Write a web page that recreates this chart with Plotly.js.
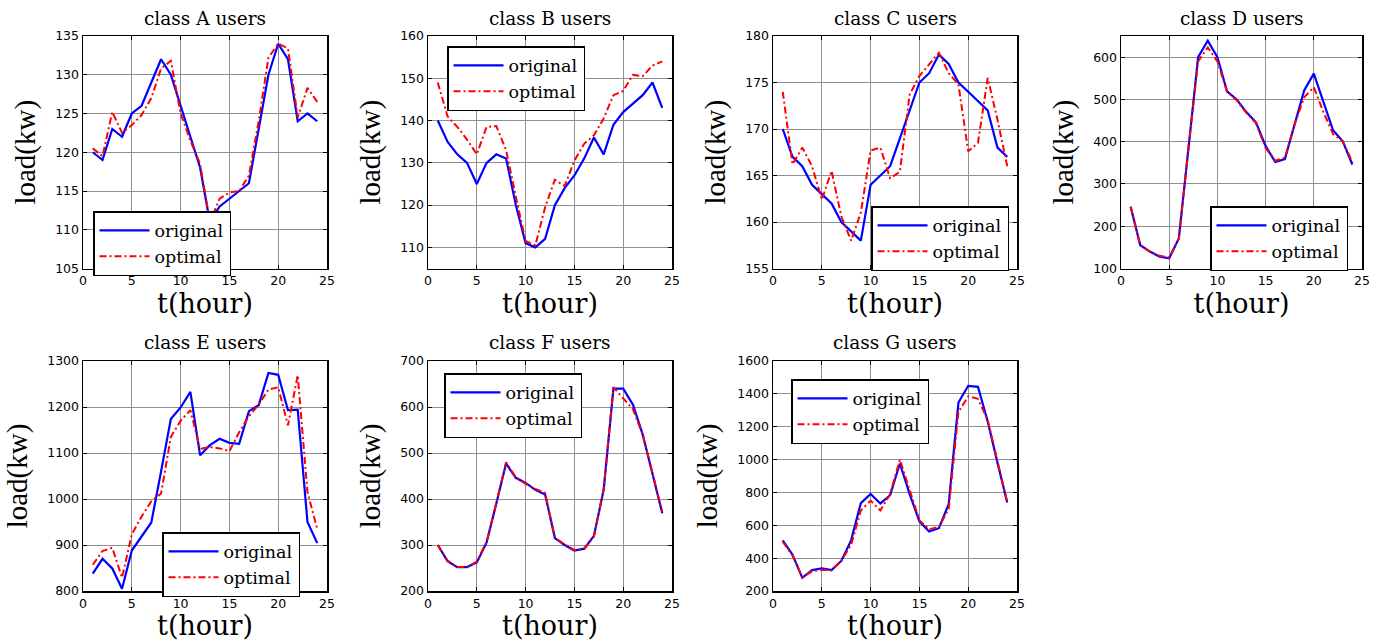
<!DOCTYPE html>
<html>
<head>
<meta charset="utf-8">
<script src="https://cdn.plot.ly/plotly-3.0.1.min.js"></script>
<style>
  html, body { margin: 0; padding: 0; background: #fff; }
  #chart { width: 1380px; height: 641px; }
</style>
</head>
<body>
<div id="chart"></div>
<script>
// ---- data ----
const hours = [1,2,3,4,5,6,7,8,9,10,11,12,13,14,15,16,17,18,19,20,21,22,23,24];
const classNames = ['A','B','C','D','E','F','G'];
const seriesNames = ['original','optimal'];

const aOriginal = [120,119,123,122,125,126,129,132,130,126,122,118,111,113,114,115,116,123,130,134,132,124,125,124];
const aOptimal  = [120.5,119.5,125.2,122.5,123.5,124.8,127,130.8,131.8,125,121.5,118.5,111,114,114.8,115,117,124,132.2,134,133.4,124.5,128.3,126.5];

const bOriginal = [140,135,132,130,125,130,132,131,120,111,110,112,120,124,127,131,136,132,139,142,144,146,149,143];
const bOptimal  = [149,141,138.5,135.5,132,138.5,138.7,133,122,111.5,110.5,119.5,126,124.5,130.5,134.5,136.5,140.5,146,147,150.8,150.5,153,154];

const cOriginal = [170,167,166,164,163,162,160,159,158,164,165,166,169,172,175,176,178,177,175,174,173,172,168,167];
const cOptimal  = [174,166.2,168,166,162.4,165.5,160.6,158,161,167.7,168,164.7,165.4,173.7,175.7,177,178.2,176,174.8,167.6,168.5,175.5,171,166];

const dOriginal = [246,155,140,128,124,171,385,600,639,600,519,500,470,446,390,352,359,440,521,561,492,427,401,346];
const dOptimal  = [246,155,140,130,126,171,385,590,623,590,518,498,468,444,385,355,362,440,505,529,470,418,401,352];

const eOriginal = [838,870,849,805,888,918,949,1060,1174,1199,1233,1095,1117,1131,1122,1120,1191,1204,1274,1270,1193,1194,950,904];
const eOptimal  = [857,887,894,829,923,962,995,1012,1135,1170,1193,1109,1113,1110,1104,1145,1180,1205,1238,1243,1160,1269,1015,935];

const fOriginal = [300,265,252,252,262,305,390,477,446,435,420,410,315,300,288,292,320,420,640,640,605,540,455,369];
const fOptimal  = [300,266,252,252,264,307,392,480,447,433,422,413,316,301,289,291,318,422,643,620,595,540,455,372];

const gOriginal = [508,421,280,327,337,327,383,508,735,791,733,783,976,790,624,562,582,729,1347,1449,1443,1232,980,739];
const gOptimal  = [500,415,285,320,330,325,385,480,690,750,690,790,1000,810,630,575,590,700,1290,1385,1370,1240,990,740];

const xTicks = [0,5,10,15,20,25];
const yRanges = [[105,135],[105,160],[155,180],[100,650],[800,1300],[200,700],[200,1600]];
const yDticks = [5,10,5,100,100,100,200];

const originals = [aOriginal,bOriginal,cOriginal,dOriginal,eOriginal,fOriginal,gOriginal];
const optimals  = [aOptimal,bOptimal,cOptimal,dOptimal,eOptimal,fOptimal,gOptimal];

// ---- layout geometry ----
const W = 1380, H = 641;
const colDomains = [[83,327],[428,672],[773,1017],[1121,1362]];
const rowDomains = [[36,268.5],[361,591]];
// legend top-left corners (px)
const legendPos = [[93,211],[447,46],[871,206],[1210,206],[162,532],[444,373],[791,379]];
const titleY = [18,342];

const serif = '"DejaVu Serif", serif';
const timesLike = '"Liberation Serif", "Times New Roman", serif';
const sans = '"DejaVu Sans", Arial, sans-serif';

const traces = [];
const layout = {
  width: W, height: H,
  margin: {l:0, r:0, t:0, b:0},
  paper_bgcolor: '#fff',
  plot_bgcolor: '#fff',
  annotations: [],
  showlegend: true
};

for (let i = 0; i < 7; i++) {
  const row = i < 4 ? 0 : 1;
  const col = i < 4 ? i : i - 4;
  const sfx = i === 0 ? '' : String(i + 1);
  const legName = 'legend' + sfx;
  const cd = colDomains[col], rd = rowDomains[row];

  traces.push({
    x: hours, y: originals[i], type: 'scatter', mode: 'lines',
    name: seriesNames[0], xaxis: 'x' + sfx, yaxis: 'y' + sfx, legend: legName,
    line: {color: '#0000ff', width: 2.2}
  });
  traces.push({
    x: hours, y: optimals[i], type: 'scatter', mode: 'lines',
    name: seriesNames[1], xaxis: 'x' + sfx, yaxis: 'y' + sfx, legend: legName,
    line: {color: '#ff0000', width: 2, dash: '7px,3px,2px,3px'}
  });

  const axCommon = {
    showline: true, linecolor: '#000', linewidth: 1.5, mirror: 'ticks',
    ticks: 'inside', ticklen: 4, tickcolor: '#000', tickwidth: 1,
    showgrid: true, gridcolor: '#8f8f8f', gridwidth: 1,
    zeroline: false, fixedrange: true,
    tickfont: {family: sans, size: 12.5, color: '#000'}
  };

  layout['xaxis' + sfx] = Object.assign({}, axCommon, {
    domain: [cd[0] / W, cd[1] / W],
    anchor: 'y' + sfx,
    range: [0, 25], tickmode: 'array', tickvals: xTicks, ticktext: xTicks.map(String),
    title: {text: 't(hour)', font: {family: serif, size: 27, color: '#000'}, standoff: 3}
  });
  layout['yaxis' + sfx] = Object.assign({}, axCommon, {
    domain: [1 - rd[1] / H, 1 - rd[0] / H],
    anchor: 'x' + sfx,
    range: yRanges[i], dtick: yDticks[i], tick0: 0,
    title: {text: 'load(kw)', font: {family: timesLike, size: 29, color: '#000'}, standoff: 11}
  });

  layout[legName] = {
    x: legendPos[i][0] / W, y: 1 - legendPos[i][1] / H,
    xanchor: 'left', yanchor: 'top',
    bgcolor: '#fff', bordercolor: '#000', borderwidth: 1.5,
    font: {family: serif, size: 17.5, color: '#000'},
    itemwidth: 50, tracegroupgap: 0
  };

  layout.annotations.push({
    text: 'class ' + classNames[i] + ' users',
    xref: 'paper', yref: 'paper',
    x: (cd[0] + cd[1]) / 2 / W, y: 1 - titleY[row] / H,
    xanchor: 'center', yanchor: 'middle', showarrow: false,
    font: {family: serif, size: 18.5, color: '#000'}
  });
}

Plotly.newPlot('chart', traces, layout, {displayModeBar: false, staticPlot: true});
</script>
</body>
</html>
